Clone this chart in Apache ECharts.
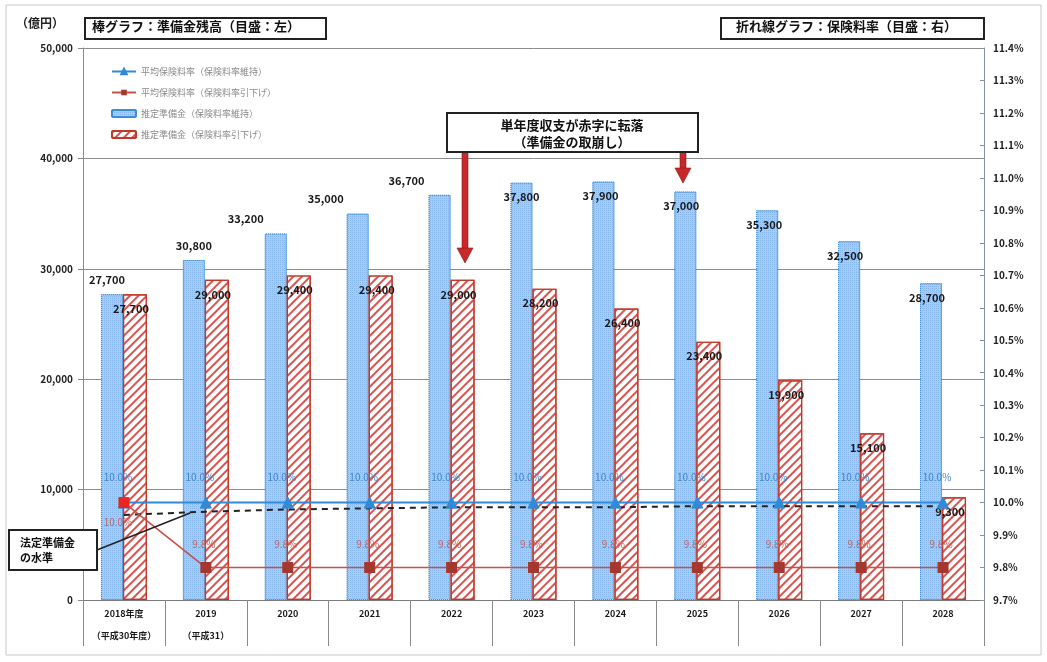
<!DOCTYPE html>
<html>
<head>
<meta charset="utf-8">
<script src="https://cdn.jsdelivr.net/npm/echarts@6/dist/echarts.min.js"></script>
<style>
  html, body { margin: 0; padding: 0; background: #fff; }
  #chart { width: 1047px; height: 662px; }
</style>
</head>
<body>
<div id="chart"></div>
<script>
// 年度区分
const categories = ['2018年度\n（平成30年度）', '2019\n（平成31）', '2020', '2021', '2022', '2023', '2024', '2025', '2026', '2027', '2028'];

// 準備金残高（億円）
const reserveKeep = [27700, 30800, 33200, 35000, 36700, 37800, 37900, 37000, 35300, 32500, 28700];
const reserveCut  = [27700, 29000, 29400, 29400, 29000, 28200, 26400, 23400, 19900, 15100, 9300];

// 法定準備金の水準（億円）
const statutoryLevel = [7700, 8000, 8200, 8300, 8400, 8400, 8400, 8500, 8500, 8500, 8500];

// 平均保険料率（%）
const rateKeep = [10.0, 10.0, 10.0, 10.0, 10.0, 10.0, 10.0, 10.0, 10.0, 10.0, 10.0];
const rateCut  = [10.0, 9.8, 9.8, 9.8, 9.8, 9.8, 9.8, 9.8, 9.8, 9.8, 9.8];

// 凡例名
const seriesNames = ['平均保険料率（保険料率維持）', '平均保険料率（保険料率引下げ）', '推定準備金（保険料率維持）', '推定準備金（保険料率引下げ）'];

const FONT = '"Noto Sans CJK JP", "Liberation Sans", sans-serif';
const fmtNum = v => String(v).replace(/\B(?=(\d{3})+(?!\d))/g, ',');
const fmtPct = v => Number(v).toFixed(1) + '%';

// 棒ラベルの位置調整（前半は棒の上、後半は棒の内側）
const keepLabelShift = [-5, 0, -30, -32, -33, 0, -3, -4, -3, -4, -4];

const chart = echarts.init(document.getElementById('chart'), null, { renderer: 'canvas' });

const option = {
  animation: false,
  backgroundColor: '#fff',
  textStyle: { fontFamily: FONT },
  grid: { left: 83, right: 63, top: 48, bottom: 62 },
  legend: {
    orient: 'vertical',
    left: 106, top: 62,
    itemWidth: 24, itemHeight: 7, itemGap: 12,
    textStyle: { fontSize: 9, color: '#8a8a8a', fontFamily: FONT },
    data: seriesNames
  },
  xAxis: {
    type: 'category',
    data: categories,
    axisLine: { lineStyle: { color: '#7a7a7a', width: 1 } },
    axisTick: { show: true, length: 46, lineStyle: { color: '#8a8a8a' } },
    axisLabel: { interval: 0, fontSize: 9, fontWeight: 'bold', color: '#1a1a1a', lineHeight: 22, margin: 3, fontFamily: FONT }
  },
  yAxis: [
    {
      type: 'value', min: 0, max: 50000, interval: 10000,
      axisLine: { show: true, lineStyle: { color: '#8a8a8a' } },
      axisTick: { show: true, length: 5, lineStyle: { color: '#8a8a8a' } },
      axisLabel: { formatter: v => fmtNum(v), fontSize: 10, fontWeight: 'bold', color: '#222', margin: 10, fontFamily: FONT },
      splitLine: { show: true, lineStyle: { color: '#8c8c8c', width: 1 } }
    },
    {
      type: 'value', min: 9.7, max: 11.4, interval: 0.1,
      axisLine: { show: true, lineStyle: { color: '#8a8fa8' } },
      axisTick: { show: true, inside: true, length: 4, lineStyle: { color: '#8a8fa8' } },
      axisLabel: { formatter: v => fmtPct(v), fontSize: 10, fontWeight: 'bold', color: '#222', margin: 9, fontFamily: FONT },
      splitLine: { show: false }
    }
  ],
  series: [
    {
      name: seriesNames[2], type: 'bar', yAxisIndex: 0,
      barWidth: 22, barGap: '0%',
      itemStyle: {
        color: '#a3cdf5', borderColor: '#3b8fda', borderWidth: 1, borderType: 'dotted',
        decal: { symbol: 'rect', color: 'rgba(80,140,215,0.35)', dashArrayX: [1, 1], dashArrayY: [1, 1], symbolSize: 1 }
      },
      data: reserveKeep.map((v, i) => ({
        value: v,
        label: i < 5
          ? { position: 'top', distance: 9, offset: [keepLabelShift[i], 0] }
          : { position: 'insideTop', distance: 9, offset: [keepLabelShift[i], 0] }
      })),
      label: { show: true, formatter: p => fmtNum(p.value), fontSize: 11, fontWeight: 'bold', color: '#1a1a1a', fontFamily: FONT },
      z: 2
    },
    {
      name: seriesNames[3], type: 'bar', yAxisIndex: 0,
      barWidth: 24,
      itemStyle: {
        color: '#ffffff', borderColor: '#c0392b', borderWidth: 1.2,
        decal: { symbol: 'rect', color: '#d9534f', dashArrayX: [1, 0], dashArrayY: [1.6, 4], rotation: -Math.PI / 4 }
      },
      label: { show: true, position: 'insideTop', distance: 9, offset: [-4, 0], formatter: p => fmtNum(p.value), fontSize: 11, fontWeight: 'bold', color: '#1a1a1a', fontFamily: FONT },
      data: reserveCut,
      z: 2
    },
    {
      name: '法定準備金の水準', type: 'line', yAxisIndex: 0,
      symbol: 'none', smooth: false,
      lineStyle: { color: '#222', width: 2, type: [6, 5] },
      data: statutoryLevel,
      z: 4
    },
    {
      name: seriesNames[0], type: 'line', yAxisIndex: 1,
      symbol: 'triangle', symbolSize: 11, showSymbol: true, showAllSymbol: true,
      lineStyle: { color: '#2f8ad8', width: 2 },
      itemStyle: { color: '#2f8ad8', borderColor: '#2f8ad8', borderWidth: 1 },
      label: { show: true, position: 'top', distance: 14, offset: [-6, 0], formatter: p => fmtPct(p.value), fontSize: 10, color: '#3f86d0', fontFamily: FONT },
      data: rateKeep,
      z: 5
    },
    {
      name: seriesNames[1], type: 'line', yAxisIndex: 1,
      symbol: 'rect', symbolSize: 11, showSymbol: true, showAllSymbol: true,
      lineStyle: { color: '#c9504a', width: 1.6 },
      itemStyle: { color: '#a5372e' },
      label: { show: true, position: 'top', distance: 13, offset: [-2, 0], formatter: p => fmtPct(p.value), fontSize: 10, color: '#c8625b', fontFamily: FONT },
      data: rateCut.map((v, i) => i === 0
        ? { value: v, itemStyle: { color: '#e8261f' }, label: { position: 'bottom', distance: 9, offset: [-6, 0] } }
        : v),
      z: 6
    }
  ],
  graphic: [
    // 外枠
    { type: 'rect', shape: { x: 6, y: 5, width: 1035, height: 650 }, style: { fill: 'none', stroke: '#c8c8c8', lineWidth: 1 }, silent: true },
    // 単位
    { type: 'text', left: 16, top: 17, style: { text: '（億円）', font: 'bold 12px ' + FONT, fill: '#222' } },
    // 見出し（左）
    { type: 'rect', shape: { x: 85, y: 18, width: 241, height: 21 }, style: { fill: '#fff', stroke: '#222', lineWidth: 2 } },
    { type: 'text', left: 92, top: 20, style: { text: '棒グラフ：準備金残高（目盛：左）', font: 'bold 13px ' + FONT, fill: '#111' } },
    // 見出し（右）
    { type: 'rect', shape: { x: 721, y: 18, width: 263, height: 21 }, style: { fill: '#fff', stroke: '#222', lineWidth: 2 } },
    { type: 'text', left: 736, top: 20, style: { text: '折れ線グラフ：保険料率（目盛：右）', font: 'bold 13px ' + FONT, fill: '#111' } },
    // 注記ボックス
    { type: 'rect', shape: { x: 447, y: 113, width: 251, height: 39 }, style: { fill: '#fff', stroke: '#222', lineWidth: 2 }, z: 10 },
    { type: 'text', x: 572, y: 117, style: { text: '単年度収支が赤字に転落\n（準備金の取崩し）', font: 'bold 13px ' + FONT, fill: '#111', align: 'center', lineHeight: 17 }, z: 11 },
    // 矢印
    { type: 'rect', shape: { x: 462, y: 152, width: 6, height: 98 }, style: { fill: '#c8282a', stroke: '#8a1a1a', lineWidth: 0.6 }, z: 9 },
    { type: 'polygon', shape: { points: [[457, 248], [473, 248], [465, 263]] }, style: { fill: '#c8282a', stroke: '#8a1a1a', lineWidth: 0.6 }, z: 9 },
    { type: 'rect', shape: { x: 680, y: 152, width: 6, height: 17 }, style: { fill: '#c8282a', stroke: '#8a1a1a', lineWidth: 0.6 }, z: 9 },
    { type: 'polygon', shape: { points: [[675, 168], [691, 168], [683, 183]] }, style: { fill: '#c8282a', stroke: '#8a1a1a', lineWidth: 0.6 }, z: 9 },
    // 法定準備金の水準 吹き出し
    { type: 'line', shape: { x1: 97, y1: 550, x2: 190, y2: 513 }, style: { stroke: '#222', lineWidth: 1.5 }, z: 9 },
    { type: 'rect', shape: { x: 9, y: 530, width: 88, height: 40 }, style: { fill: '#fff', stroke: '#222', lineWidth: 2 }, z: 10 },
    { type: 'text', left: 20, top: 535, style: { text: '法定準備金\nの水準', font: 'bold 11px ' + FONT, fill: '#111', lineHeight: 15 }, z: 11 }
  ]
};

chart.setOption(option);
</script>
</body>
</html>
